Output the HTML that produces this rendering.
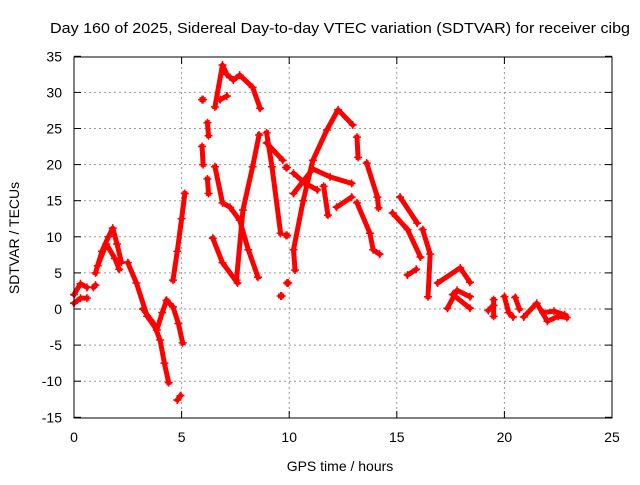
<!DOCTYPE html>
<html><head><meta charset="utf-8"><style>
body{margin:0;background:#fff}
svg text{font-family:"Liberation Sans",sans-serif;font-size:14px;fill:#000}
</style></head><body>
<svg id="c" width="640" height="480" xmlns="http://www.w3.org/2000/svg">
<text x="50" y="33" textLength="580" lengthAdjust="spacingAndGlyphs" style="font-size:15px">Day 160 of 2025, Sidereal Day-to-day VTEC variation (SDTVAR) for receiver cibg</text>
<text x="340" y="471" text-anchor="middle">GPS time / hours</text>
<text transform="translate(19,238) rotate(-90)" text-anchor="middle">SDTVAR / TECUs</text>
<g id="grid"></g><g id="marks"></g>
<rect x="74" y="57" width="538" height="361" fill="none" stroke="#000" stroke-width="1"/>
</svg>
<script>
const xTicks=[0,5,10,15,20,25];
const yTicks=[-15,-10,-5,0,5,10,15,20,25,30,35];
const tracks=[
[[0,2],[0.3,3.5],[0.6,3]],
[[0,0.8],[0.3,1.5],[0.6,1.5]],
[[0.9,3],[1.0,3.3]],
[[1.0,5],[1.3,8],[1.6,10],[1.8,11.2],[2.0,9],[2.2,6.5]],
[[1.1,6],[1.5,9],[1.9,7],[2.1,5.5]],
[[2.5,6.4],[2.9,3.6],[3.4,-1],[3.85,-2.9],[4.1,-0.5],[4.3,1.2]],
[[3.2,0],[3.7,-2],[4.0,-4.3],[4.2,-7.5],[4.4,-10.2]],
[[4.3,1.2],[4.6,0.3],[4.85,-2],[5.05,-4.7]],
[[4.8,-12.6],[4.95,-12]],
[[4.6,4],[4.8,8],[5.0,12.5],[5.15,16]],
[[5.95,29],[6.0,29]],
[[6.2,25.8],[6.25,24]],
[[5.95,22.5],[6.0,20]],
[[6.2,18],[6.25,16]],
[[6.55,28],[6.9,33.8],[7.1,32.5],[7.4,31.7],[7.7,32.4],[8.3,30.7],[8.65,27.8]],
[[6.8,29],[7.1,29.5]],
[[6.55,19.7],[6.9,14.7],[7.25,14.1],[7.7,12.3],[8.1,8.2],[8.55,4.4]],
[[6.45,9.8],[6.9,6.4],[7.6,3.6]],
[[7.55,4],[7.85,13.7],[8.3,19.7],[8.6,24.1]],
[[8.95,24.4],[9.2,19.7],[9.6,10.5]],
[[8.95,23],[9.7,20.6]],
[[9.85,19.6],[9.9,19.6]],[[9.85,10.2],[9.9,10.2]],[[9.9,3.6],[9.95,3.6]],[[9.6,1.8],[9.65,1.8]],
[[10.27,5.4],[10.2,8.2],[10.65,15],[11.1,20.6],[11.75,24.8],[12.27,27.6],[12.95,25.5]],
[[10.2,18.8],[10.7,17.5],[11.3,16.5]],
[[10.2,16],[11.1,19.4],[11.9,18.3],[12.9,17.4]],
[[12.2,14.1],[12.9,15.5]],
[[11.6,17],[11.8,13]],
[[13.15,23.8],[13.2,21]],
[[13.6,20.2],[14.1,15.5],[14.15,14]],
[[13.15,14.7],[13.75,10.5],[13.9,8.2],[14.2,7.6]],
[[15.15,15.5],[15.95,11.9]],
[[14.8,13.3],[15.5,11],[16.1,7.2]],
[[16.2,11],[16.55,7.6],[16.45,1.7]],
[[15.5,4.7],[15.9,5.5]],
[[16.9,3.6],[17.95,5.7],[18.4,3.7]],
[[17.35,0.1],[17.8,2.6],[18.4,1.7]],
[[17.6,2],[18.4,0.1]],
[[19.25,-0.2],[19.5,0.5]],[[19.5,-1],[19.5,1.3]],
[[20.0,1.7],[20.2,-0.5],[20.4,-1.1]],
[[20.5,1.6],[20.7,0]],
[[20.9,-1.1],[21.5,0.8],[22.0,-1.7],[22.5,-1],[22.9,-1.2]],
[[21.8,-0.5],[22.3,-0.3],[22.8,-0.8]]
];
const X=v=>74+v*538/25, Y=v=>309-v*361/50;
const NS="http://www.w3.org/2000/svg";
const g=document.getElementById('grid'), m=document.getElementById('marks');
function mk(t,a,p){const e=document.createElementNS(NS,t);for(const k in a)e.setAttribute(k,a[k]);p.appendChild(e);return e;}
xTicks.forEach(t=>{
 if(t>0&&t<25){const l=mk('line',{x1:X(t),x2:X(t),y1:57,y2:418,stroke:'#999','stroke-dasharray':'2,3'},g);
 
 }
 mk('line',{x1:X(t),x2:X(t),y1:418,y2:411,stroke:'#000'},g);mk('line',{x1:X(t),x2:X(t),y1:57,y2:64,stroke:'#000'},g);
 const tx=mk('text',{x:X(t),y:442,'text-anchor':'middle'},g);tx.textContent=t;
 
 
});
yTicks.forEach(t=>{
 if(t>-15&&t<35){const l=mk('line',{x1:74,x2:612,y1:Y(t),y2:Y(t),stroke:'#999','stroke-dasharray':'2,3'},g);
 
 }
 mk('line',{x1:74,x2:81,y1:Y(t),y2:Y(t),stroke:'#000'},g);mk('line',{x1:605,x2:612,y1:Y(t),y2:Y(t),stroke:'#000'},g);
 const tx=mk('text',{x:62,y:Y(t)+5,'text-anchor':'end'},g);tx.textContent=t;
 
 
});
tracks.forEach(tr=>{
 const pl=mk('polyline',{points:tr.map(p=>X(p[0])+','+Y(p[1])).join(' '),fill:'none',stroke:'#f00','stroke-width':5,'stroke-linejoin':'round','stroke-linecap':'square','stroke-dasharray':'none'},m);
 
 
 tr.forEach(p=>{const x=X(p[0]),y=Y(p[1]);
  const pm=mk('path',{d:`M${x-4},${y}h8M${x},${y-4}v8`,stroke:'#f00','stroke-width':1.5},m);
  
  });
});
</script>
</body></html>
